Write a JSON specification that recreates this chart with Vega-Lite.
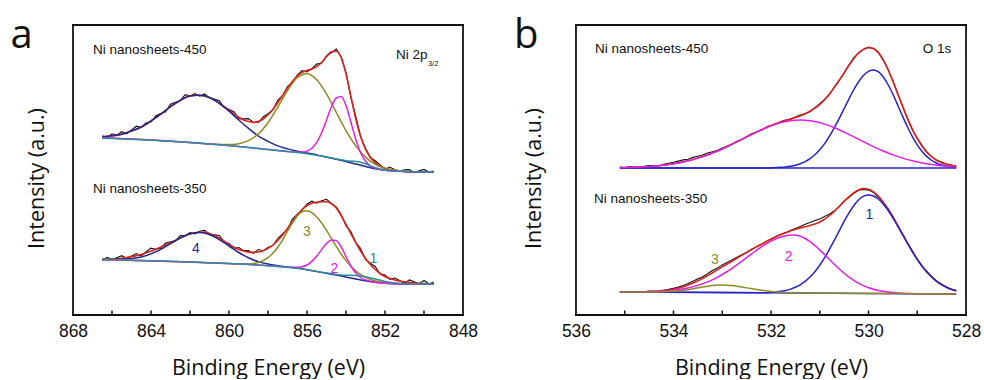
{
"$schema": "https://vega.github.io/schema/vega-lite/v6.json",
"padding": {"left": 10, "top": 15, "right": 0, "bottom": 0},
"background": "white",
"spacing": 97,
"bounds": "flush",
"resolve": {"scale": {"color": "independent"}},
"config": {
 "view": {"stroke": null},
 "axis": {"grid": false, "domain": false, "ticks": false, "labelColor": "#111111", "titleColor": "#111111", "titleFont": "Open Sans", "titleFontWeight": "normal", "titleFontSize": 21.5, "labelFont": "Liberation Sans", "labelFontSize": 17.5},
 "axisX": {"labelPadding": -1, "labelFlush": false, "labelOverlap": false, "labelBound": false, "titleBaseline": "alphabetic", "titleY": 51},
 "axisY": {"labels": false, "titleY": 161, "titleAngle": -90, "titleAlign": "center", "titleBaseline": "alphabetic"}
},
"datasets": {
"aBox": [{"side":"b","x":868,"y":0},{"side":"b","x":848,"y":0},{"side":"t","x":868,"y":290},{"side":"t","x":848,"y":290},{"side":"l","x":868,"y":0},{"side":"l","x":868,"y":290},{"side":"r","x":848,"y":0},{"side":"r","x":848,"y":290}],
"bBox": [{"side":"b","x":536,"y":0},{"side":"b","x":528,"y":0},{"side":"t","x":536,"y":290},{"side":"t","x":528,"y":290},{"side":"l","x":536,"y":0},{"side":"l","x":536,"y":290},{"side":"r","x":528,"y":0},{"side":"r","x":528,"y":290}],
"aTick": [{"x":850,"y":0},{"x":850,"y":4.5},{"x":852,"y":0},{"x":852,"y":4.5},{"x":854,"y":0},{"x":854,"y":4.5},{"x":856,"y":0},{"x":856,"y":4.5},{"x":858,"y":0},{"x":858,"y":4.5},{"x":860,"y":0},{"x":860,"y":4.5},{"x":862,"y":0},{"x":862,"y":4.5},{"x":864,"y":0},{"x":864,"y":4.5},{"x":866,"y":0},{"x":866,"y":4.5}],
"bTick": [{"x":529,"y":0},{"x":529,"y":4.5},{"x":530,"y":0},{"x":530,"y":4.5},{"x":531,"y":0},{"x":531,"y":4.5},{"x":532,"y":0},{"x":532,"y":4.5},{"x":533,"y":0},{"x":533,"y":4.5},{"x":534,"y":0},{"x":534,"y":4.5},{"x":535,"y":0},{"x":535,"y":4.5}],
"aRaw": [
{"s":"u","x":866.5,"y":179.3},{"s":"u","x":866.25,"y":177.2},{"s":"u","x":866,"y":181.2},{"s":"u","x":865.75,"y":179.9},{"s":"u","x":865.5,"y":183.3},{"s":"u","x":865.25,"y":181.2},{"s":"u","x":865,"y":185},{"s":"u","x":864.75,"y":188.8},{"s":"u","x":864.5,"y":187.5},{"s":"u","x":864.25,"y":192.3},{"s":"u","x":864,"y":193},{"s":"u","x":863.75,"y":199.3},{"s":"u","x":863.5,"y":201.4},{"s":"u","x":863.25,"y":203.1},{"s":"u","x":863,"y":210.8},{"s":"u","x":862.75,"y":212.7},{"s":"u","x":862.5,"y":214.2},{"s":"u","x":862.25,"y":220.3},{"s":"u","x":862,"y":219},{"s":"u","x":861.75,"y":221.3},{"s":"u","x":861.5,"y":218.8},{"s":"u","x":861.25,"y":221},{"s":"u","x":861,"y":217},{"s":"u","x":860.75,"y":216},{"s":"u","x":860.5,"y":214.2},{"s":"u","x":860.25,"y":207.6},{"s":"u","x":860,"y":205.4},{"s":"u","x":859.75,"y":203.2},{"s":"u","x":859.5,"y":196.3},{"s":"u","x":859.25,"y":196.1},{"s":"u","x":859,"y":196.4},{"s":"u","x":858.75,"y":192.6},{"s":"u","x":858.5,"y":192.5},{"s":"u","x":858.25,"y":198},{"s":"u","x":858,"y":201.3},{"s":"u","x":857.75,"y":205.1},{"s":"u","x":857.5,"y":214.7},{"s":"u","x":857.25,"y":219.6},{"s":"u","x":857,"y":228.4},{"s":"u","x":856.75,"y":232.5},{"s":"u","x":856.5,"y":239.8},{"s":"u","x":856.25,"y":244.4},{"s":"u","x":856,"y":243},{"s":"u","x":855.75,"y":246.4},{"s":"u","x":855.5,"y":250.9},{"s":"u","x":855.25,"y":252},{"s":"u","x":855,"y":259.2},{"s":"u","x":854.75,"y":262.2},{"s":"u","x":854.5,"y":265.9},{"s":"u","x":854.25,"y":258},{"s":"u","x":854,"y":242.7},{"s":"u","x":853.75,"y":217.7},{"s":"u","x":853.5,"y":198.8},{"s":"u","x":853.25,"y":178.4},{"s":"u","x":853,"y":166.8},{"s":"u","x":852.75,"y":157.2},{"s":"u","x":852.5,"y":154.2},{"s":"u","x":852.25,"y":150},{"s":"u","x":852,"y":145.8},{"s":"u","x":851.75,"y":148},{"s":"u","x":851.5,"y":145.2},{"s":"u","x":851.25,"y":143.7},{"s":"u","x":851,"y":145.3},{"s":"u","x":850.75,"y":145.5},{"s":"u","x":850.5,"y":142.3},{"s":"u","x":850.25,"y":144.2},{"s":"u","x":850,"y":145.6},{"s":"u","x":849.75,"y":143.05},{"s":"u","x":849.5,"y":144},
{"s":"l","x":866.5,"y":54.6},{"s":"l","x":866.25,"y":57.7},{"s":"l","x":866,"y":55.4},{"s":"l","x":865.75,"y":57.3},{"s":"l","x":865.5,"y":59.3},{"s":"l","x":865.25,"y":56.5},{"s":"l","x":865,"y":58.9},{"s":"l","x":864.75,"y":61.4},{"s":"l","x":864.5,"y":59.1},{"s":"l","x":864.25,"y":63.2},{"s":"l","x":864,"y":66.9},{"s":"l","x":863.75,"y":65.8},{"s":"l","x":863.5,"y":66.8},{"s":"l","x":863.25,"y":72},{"s":"l","x":863,"y":73.3},{"s":"l","x":862.75,"y":74.1},{"s":"l","x":862.5,"y":79.5},{"s":"l","x":862.25,"y":79.1},{"s":"l","x":862,"y":82.4},{"s":"l","x":861.75,"y":81.2},{"s":"l","x":861.5,"y":83.8},{"s":"l","x":861.25,"y":84.6},{"s":"l","x":861,"y":80.1},{"s":"l","x":860.75,"y":80.1},{"s":"l","x":860.5,"y":79.5},{"s":"l","x":860.25,"y":73.3},{"s":"l","x":860,"y":71.5},{"s":"l","x":859.75,"y":66.8},{"s":"l","x":859.5,"y":67.5},{"s":"l","x":859.25,"y":64.4},{"s":"l","x":859,"y":64.4},{"s":"l","x":858.75,"y":61.6},{"s":"l","x":858.5,"y":65.5},{"s":"l","x":858.25,"y":64.3},{"s":"l","x":858,"y":67.6},{"s":"l","x":857.75,"y":69.5},{"s":"l","x":857.5,"y":76.5},{"s":"l","x":857.25,"y":81},{"s":"l","x":857,"y":85.5},{"s":"l","x":856.75,"y":96},{"s":"l","x":856.5,"y":100.5},{"s":"l","x":856.25,"y":105},{"s":"l","x":856,"y":111},{"s":"l","x":855.75,"y":113.8},{"s":"l","x":855.5,"y":111.8},{"s":"l","x":855.25,"y":114.2},{"s":"l","x":855,"y":115.7},{"s":"l","x":854.75,"y":111.5},{"s":"l","x":854.5,"y":108},{"s":"l","x":854.25,"y":100.5},{"s":"l","x":854,"y":89},{"s":"l","x":853.75,"y":83.5},{"s":"l","x":853.5,"y":72.5},{"s":"l","x":853.25,"y":66.5},{"s":"l","x":853,"y":55.5},{"s":"l","x":852.75,"y":51.5},{"s":"l","x":852.5,"y":48.5},{"s":"l","x":852.25,"y":41},{"s":"l","x":852,"y":40},{"s":"l","x":851.75,"y":35.5},{"s":"l","x":851.5,"y":37},{"s":"l","x":851.25,"y":34.5},{"s":"l","x":851,"y":31.7},{"s":"l","x":850.75,"y":35.1},{"s":"l","x":850.5,"y":33.2},{"s":"l","x":850.25,"y":31.3},{"s":"l","x":850,"y":34.5},{"s":"l","x":849.75,"y":31.3},{"s":"l","x":849.5,"y":32.7}
],
"aFit": [
{"s":"u","c":"e","x":866.5,"y":178.3},{"s":"u","c":"e","x":866.25,"y":178.7},{"s":"u","c":"e","x":866,"y":179.2},{"s":"u","c":"e","x":865.75,"y":179.9},{"s":"u","c":"e","x":865.5,"y":180.8},{"s":"u","c":"e","x":865.25,"y":182.2},{"s":"u","c":"e","x":865,"y":184},{"s":"u","c":"e","x":864.75,"y":185.8},{"s":"u","c":"e","x":864.5,"y":188},{"s":"u","c":"e","x":864.25,"y":190.8},{"s":"u","c":"e","x":864,"y":194},{"s":"u","c":"e","x":863.75,"y":197.3},{"s":"u","c":"e","x":863.5,"y":200.9},{"s":"u","c":"e","x":863.25,"y":204.6},{"s":"u","c":"e","x":863,"y":208.3},{"s":"u","c":"e","x":862.75,"y":211.7},{"s":"u","c":"e","x":862.5,"y":214.7},{"s":"u","c":"e","x":862.25,"y":217.3},{"s":"u","c":"e","x":862,"y":219},{"s":"u","c":"e","x":861.75,"y":219.8},{"s":"u","c":"e","x":861.5,"y":219.8},{"s":"u","c":"e","x":861.25,"y":219},{"s":"u","c":"e","x":861,"y":217.5},{"s":"u","c":"e","x":860.75,"y":215},{"s":"u","c":"e","x":860.5,"y":211.7},{"s":"u","c":"e","x":860.25,"y":208.6},{"s":"u","c":"e","x":860,"y":204.9},{"s":"u","c":"e","x":859.75,"y":201.2},{"s":"u","c":"e","x":859.5,"y":197.8},{"s":"u","c":"e","x":859.25,"y":195.1},{"s":"u","c":"e","x":859,"y":193.4},{"s":"u","c":"e","x":858.75,"y":192.6},{"s":"u","c":"e","x":858.5,"y":193.5},{"s":"u","c":"e","x":858.25,"y":196},{"s":"u","c":"e","x":858,"y":200.3},{"s":"u","c":"e","x":857.75,"y":205.6},{"s":"u","c":"e","x":857.5,"y":212.2},{"s":"u","c":"e","x":857.25,"y":219.6},{"s":"u","c":"e","x":857,"y":226.9},{"s":"u","c":"e","x":856.75,"y":233.5},{"s":"u","c":"e","x":856.5,"y":238.8},{"s":"u","c":"e","x":856.25,"y":242.4},{"s":"u","c":"e","x":856,"y":244.5},{"s":"u","c":"e","x":855.75,"y":245.9},{"s":"u","c":"e","x":855.5,"y":248.4},{"s":"u","c":"e","x":855.25,"y":252.5},{"s":"u","c":"e","x":855,"y":258.2},{"s":"u","c":"e","x":854.75,"y":263.2},{"s":"u","c":"e","x":854.5,"y":263.9},{"s":"u","c":"e","x":854.25,"y":257.5},{"s":"u","c":"e","x":854,"y":241.2},{"s":"u","c":"e","x":853.75,"y":218.7},{"s":"u","c":"e","x":853.5,"y":196.3},{"s":"u","c":"e","x":853.25,"y":178.4},{"s":"u","c":"e","x":853,"y":165.8},{"s":"u","c":"e","x":852.75,"y":157.7},{"s":"u","c":"e","x":852.5,"y":152.2},{"s":"u","c":"e","x":852.25,"y":149},{"s":"u","c":"e","x":852,"y":146.8},{"s":"u","c":"e","x":851.75,"y":145.5},{"s":"u","c":"e","x":851.5,"y":144.7},{"s":"u","c":"e","x":851.25,"y":144.2},{"s":"u","c":"e","x":851,"y":143.8},{"s":"u","c":"e","x":850.75,"y":143.5},{"s":"u","c":"e","x":850.5,"y":143.3},{"s":"u","c":"e","x":850.25,"y":143.2},{"s":"u","c":"e","x":850,"y":143.1},{"s":"u","c":"e","x":849.75,"y":143.05},{"s":"u","c":"e","x":849.5,"y":143},
{"s":"u","c":"4","x":866.5,"y":178.3},{"s":"u","c":"4","x":866,"y":179.2},{"s":"u","c":"4","x":865.5,"y":180.8},{"s":"u","c":"4","x":865,"y":184},{"s":"u","c":"4","x":864.5,"y":188},{"s":"u","c":"4","x":864,"y":194},{"s":"u","c":"4","x":863.5,"y":200.9},{"s":"u","c":"4","x":863,"y":208.3},{"s":"u","c":"4","x":862.5,"y":214.7},{"s":"u","c":"4","x":862,"y":219},{"s":"u","c":"4","x":861.5,"y":219.8},{"s":"u","c":"4","x":861,"y":217.5},{"s":"u","c":"4","x":860.5,"y":211.7},{"s":"u","c":"4","x":860,"y":203.9},{"s":"u","c":"4","x":859.5,"y":195},{"s":"u","c":"4","x":859,"y":186.6},{"s":"u","c":"4","x":858.5,"y":179.1},{"s":"u","c":"4","x":858,"y":173.6},{"s":"u","c":"4","x":857.5,"y":169.1},{"s":"u","c":"4","x":857,"y":166.1},{"s":"u","c":"4","x":856.5,"y":163.8},{"s":"u","c":"4","x":856,"y":161.9},{"s":"u","c":"4","x":855.5,"y":160.1},{"s":"u","c":"4","x":855,"y":158},{"s":"u","c":"4","x":854.5,"y":155.8},{"s":"u","c":"4","x":854,"y":153.5},{"s":"u","c":"4","x":853.5,"y":151},{"s":"u","c":"4","x":853,"y":148.5},{"s":"u","c":"4","x":852.5,"y":146.3},{"s":"u","c":"4","x":852,"y":144.8},{"s":"u","c":"4","x":851,"y":143.6},{"s":"u","c":"4","x":850,"y":143.1},{"s":"u","c":"4","x":849.5,"y":143},
{"s":"u","c":"3","x":866.5,"y":177},{"s":"u","c":"3","x":864,"y":175},{"s":"u","c":"3","x":862,"y":172.5},{"s":"u","c":"3","x":861,"y":171.2},{"s":"u","c":"3","x":860,"y":170.4},{"s":"u","c":"3","x":859.5,"y":171.3},{"s":"u","c":"3","x":859,"y":174.4},{"s":"u","c":"3","x":858.5,"y":181},{"s":"u","c":"3","x":858,"y":192.3},{"s":"u","c":"3","x":857.5,"y":207.7},{"s":"u","c":"3","x":857,"y":224.4},{"s":"u","c":"3","x":856.5,"y":237.2},{"s":"u","c":"3","x":856,"y":241.3},{"s":"u","c":"3","x":855.5,"y":235.2},{"s":"u","c":"3","x":855,"y":221.1},{"s":"u","c":"3","x":854.5,"y":202.7},{"s":"u","c":"3","x":854,"y":184.4},{"s":"u","c":"3","x":853.5,"y":169.1},{"s":"u","c":"3","x":853,"y":157.9},{"s":"u","c":"3","x":852.5,"y":150.6},{"s":"u","c":"3","x":852,"y":146.6},{"s":"u","c":"3","x":851.5,"y":144.7},{"s":"u","c":"3","x":851,"y":143.8},{"s":"u","c":"3","x":850,"y":143.1},{"s":"u","c":"3","x":849.5,"y":143},
{"s":"u","c":"2","x":866.5,"y":177},{"s":"u","c":"2","x":864,"y":175},{"s":"u","c":"2","x":862,"y":172.5},{"s":"u","c":"2","x":860,"y":169.4},{"s":"u","c":"2","x":858,"y":165.6},{"s":"u","c":"2","x":857,"y":163.6},{"s":"u","c":"2","x":856.5,"y":162.8},{"s":"u","c":"2","x":856.25,"y":162.9},{"s":"u","c":"2","x":856,"y":163.9},{"s":"u","c":"2","x":855.75,"y":166.7},{"s":"u","c":"2","x":855.5,"y":172.7},{"s":"u","c":"2","x":855.25,"y":182.3},{"s":"u","c":"2","x":855,"y":195.1},{"s":"u","c":"2","x":854.75,"y":208},{"s":"u","c":"2","x":854.5,"y":217},{"s":"u","c":"2","x":854.25,"y":218.6},{"s":"u","c":"2","x":854,"y":209.5},{"s":"u","c":"2","x":853.75,"y":193},{"s":"u","c":"2","x":853.5,"y":175.7},{"s":"u","c":"2","x":853.25,"y":162.2},{"s":"u","c":"2","x":853,"y":153.7},{"s":"u","c":"2","x":852.75,"y":149.2},{"s":"u","c":"2","x":852.5,"y":146.8},{"s":"u","c":"2","x":852,"y":144.8},{"s":"u","c":"2","x":851,"y":143.6},{"s":"u","c":"2","x":849.5,"y":143},
{"s":"u","c":"1","x":866.5,"y":177},{"s":"u","c":"1","x":862,"y":172.5},{"s":"u","c":"1","x":858,"y":165.6},{"s":"u","c":"1","x":856,"y":161.3},{"s":"u","c":"1","x":855,"y":158},{"s":"u","c":"1","x":854.5,"y":156},{"s":"u","c":"1","x":854,"y":154.3},{"s":"u","c":"1","x":853.5,"y":153.5},{"s":"u","c":"1","x":853.25,"y":152.75},{"s":"u","c":"1","x":853,"y":151.2},{"s":"u","c":"1","x":852.5,"y":147.4},{"s":"u","c":"1","x":852,"y":145},{"s":"u","c":"1","x":851.5,"y":144},{"s":"u","c":"1","x":850.5,"y":143.3},{"s":"u","c":"1","x":849.5,"y":143},
{"s":"l","c":"e","x":866.5,"y":55.6},{"s":"l","c":"e","x":866.25,"y":55.7},{"s":"l","c":"e","x":866,"y":55.9},{"s":"l","c":"e","x":865.75,"y":56.3},{"s":"l","c":"e","x":865.5,"y":56.8},{"s":"l","c":"e","x":865.25,"y":57.5},{"s":"l","c":"e","x":865,"y":58.4},{"s":"l","c":"e","x":864.75,"y":59.4},{"s":"l","c":"e","x":864.5,"y":60.6},{"s":"l","c":"e","x":864.25,"y":62.2},{"s":"l","c":"e","x":864,"y":63.9},{"s":"l","c":"e","x":863.75,"y":65.8},{"s":"l","c":"e","x":863.5,"y":67.8},{"s":"l","c":"e","x":863.25,"y":70},{"s":"l","c":"e","x":863,"y":72.3},{"s":"l","c":"e","x":862.75,"y":74.6},{"s":"l","c":"e","x":862.5,"y":77},{"s":"l","c":"e","x":862.25,"y":79.1},{"s":"l","c":"e","x":862,"y":80.9},{"s":"l","c":"e","x":861.75,"y":82.2},{"s":"l","c":"e","x":861.5,"y":82.8},{"s":"l","c":"e","x":861.25,"y":82.6},{"s":"l","c":"e","x":861,"y":81.6},{"s":"l","c":"e","x":860.75,"y":79.6},{"s":"l","c":"e","x":860.5,"y":77},{"s":"l","c":"e","x":860.25,"y":73.8},{"s":"l","c":"e","x":860,"y":70.5},{"s":"l","c":"e","x":859.75,"y":67.8},{"s":"l","c":"e","x":859.5,"y":65.5},{"s":"l","c":"e","x":859.25,"y":63.9},{"s":"l","c":"e","x":859,"y":62.9},{"s":"l","c":"e","x":858.75,"y":62.6},{"s":"l","c":"e","x":858.5,"y":63},{"s":"l","c":"e","x":858.25,"y":64.3},{"s":"l","c":"e","x":858,"y":66.6},{"s":"l","c":"e","x":857.75,"y":70},{"s":"l","c":"e","x":857.5,"y":74.5},{"s":"l","c":"e","x":857.25,"y":80},{"s":"l","c":"e","x":857,"y":86.5},{"s":"l","c":"e","x":856.75,"y":93.5},{"s":"l","c":"e","x":856.5,"y":100},{"s":"l","c":"e","x":856.25,"y":105.5},{"s":"l","c":"e","x":856,"y":109.5},{"s":"l","c":"e","x":855.75,"y":111.8},{"s":"l","c":"e","x":855.5,"y":112.8},{"s":"l","c":"e","x":855.25,"y":113.2},{"s":"l","c":"e","x":855,"y":113.2},{"s":"l","c":"e","x":854.75,"y":111.5},{"s":"l","c":"e","x":854.5,"y":107},{"s":"l","c":"e","x":854.25,"y":99.5},{"s":"l","c":"e","x":854,"y":90.5},{"s":"l","c":"e","x":853.75,"y":81.5},{"s":"l","c":"e","x":853.5,"y":72.5},{"s":"l","c":"e","x":853.25,"y":64},{"s":"l","c":"e","x":853,"y":56.5},{"s":"l","c":"e","x":852.75,"y":50.5},{"s":"l","c":"e","x":852.5,"y":45.5},{"s":"l","c":"e","x":852.25,"y":41.5},{"s":"l","c":"e","x":852,"y":38.5},{"s":"l","c":"e","x":851.75,"y":36.5},{"s":"l","c":"e","x":851.5,"y":35},{"s":"l","c":"e","x":851.25,"y":34},{"s":"l","c":"e","x":851,"y":33.2},{"s":"l","c":"e","x":850.75,"y":32.6},{"s":"l","c":"e","x":850.5,"y":32.2},{"s":"l","c":"e","x":850.25,"y":31.8},{"s":"l","c":"e","x":850,"y":31.5},{"s":"l","c":"e","x":849.75,"y":31.3},{"s":"l","c":"e","x":849.5,"y":31.2},
{"s":"l","c":"4","x":866.5,"y":55.6},{"s":"l","c":"4","x":866,"y":55.6},{"s":"l","c":"4","x":865.5,"y":55.8},{"s":"l","c":"4","x":865,"y":56.5},{"s":"l","c":"4","x":864.5,"y":58.1},{"s":"l","c":"4","x":864,"y":61.1},{"s":"l","c":"4","x":863.5,"y":65.6},{"s":"l","c":"4","x":863,"y":71.3},{"s":"l","c":"4","x":862.5,"y":77},{"s":"l","c":"4","x":862,"y":81.3},{"s":"l","c":"4","x":861.5,"y":82.6},{"s":"l","c":"4","x":861,"y":80.5},{"s":"l","c":"4","x":860.5,"y":75.4},{"s":"l","c":"4","x":860,"y":69},{"s":"l","c":"4","x":859.5,"y":62.5},{"s":"l","c":"4","x":859,"y":57.2},{"s":"l","c":"4","x":858.5,"y":53.4},{"s":"l","c":"4","x":858,"y":50.9},{"s":"l","c":"4","x":857.5,"y":49.3},{"s":"l","c":"4","x":857,"y":48.05},{"s":"l","c":"4","x":856.5,"y":46.9},{"s":"l","c":"4","x":856,"y":45.3},{"s":"l","c":"4","x":855.5,"y":43.6},{"s":"l","c":"4","x":855,"y":41.8},{"s":"l","c":"4","x":854.5,"y":39.9},{"s":"l","c":"4","x":854,"y":38},{"s":"l","c":"4","x":853.5,"y":36.1},{"s":"l","c":"4","x":853,"y":34.3},{"s":"l","c":"4","x":852.5,"y":32.8},{"s":"l","c":"4","x":852,"y":31.8},{"s":"l","c":"4","x":851.5,"y":31.3},{"s":"l","c":"4","x":851,"y":31.1},{"s":"l","c":"4","x":850,"y":31},{"s":"l","c":"4","x":849.5,"y":31},
{"s":"l","c":"3","x":866.5,"y":55.5},{"s":"l","c":"3","x":862,"y":53},{"s":"l","c":"3","x":860,"y":51.4},{"s":"l","c":"3","x":859,"y":51},{"s":"l","c":"3","x":858.5,"y":52.5},{"s":"l","c":"3","x":858,"y":57.3},{"s":"l","c":"3","x":857.75,"y":61.8},{"s":"l","c":"3","x":857.5,"y":67.8},{"s":"l","c":"3","x":857.25,"y":75.2},{"s":"l","c":"3","x":857,"y":83.6},{"s":"l","c":"3","x":856.75,"y":91.8},{"s":"l","c":"3","x":856.5,"y":98.9},{"s":"l","c":"3","x":856.25,"y":103.3},{"s":"l","c":"3","x":856,"y":104.3},{"s":"l","c":"3","x":855.75,"y":102.3},{"s":"l","c":"3","x":855.5,"y":98.1},{"s":"l","c":"3","x":855.25,"y":92},{"s":"l","c":"3","x":855,"y":84.6},{"s":"l","c":"3","x":854.75,"y":76.7},{"s":"l","c":"3","x":854.5,"y":68.6},{"s":"l","c":"3","x":854.25,"y":61},{"s":"l","c":"3","x":854,"y":54.4},{"s":"l","c":"3","x":853.75,"y":48.7},{"s":"l","c":"3","x":853.5,"y":44.1},{"s":"l","c":"3","x":853.25,"y":40.4},{"s":"l","c":"3","x":853,"y":37.6},{"s":"l","c":"3","x":852.5,"y":34},{"s":"l","c":"3","x":852,"y":32.2},{"s":"l","c":"3","x":851,"y":31.1},{"s":"l","c":"3","x":849.5,"y":31},
{"s":"l","c":"2","x":866.5,"y":55.5},{"s":"l","c":"2","x":862,"y":53},{"s":"l","c":"2","x":860,"y":51.4},{"s":"l","c":"2","x":858,"y":49.3},{"s":"l","c":"2","x":857,"y":47.8},{"s":"l","c":"2","x":856.5,"y":47.7},{"s":"l","c":"2","x":856.25,"y":48.3},{"s":"l","c":"2","x":856,"y":50},{"s":"l","c":"2","x":855.75,"y":53.6},{"s":"l","c":"2","x":855.5,"y":58.9},{"s":"l","c":"2","x":855.25,"y":65.4},{"s":"l","c":"2","x":855,"y":71.5},{"s":"l","c":"2","x":854.75,"y":75.1},{"s":"l","c":"2","x":854.5,"y":74.4},{"s":"l","c":"2","x":854.25,"y":68.2},{"s":"l","c":"2","x":854,"y":58.5},{"s":"l","c":"2","x":853.75,"y":49},{"s":"l","c":"2","x":853.5,"y":41.9},{"s":"l","c":"2","x":853.25,"y":37.5},{"s":"l","c":"2","x":853,"y":35.1},{"s":"l","c":"2","x":852.75,"y":33.75},{"s":"l","c":"2","x":852.5,"y":32.8},{"s":"l","c":"2","x":852,"y":31.8},{"s":"l","c":"2","x":851,"y":31.1},{"s":"l","c":"2","x":849.5,"y":31},
{"s":"l","c":"1","x":866.5,"y":55.5},{"s":"l","c":"1","x":862,"y":53},{"s":"l","c":"1","x":858,"y":49.3},{"s":"l","c":"1","x":856,"y":45.3},{"s":"l","c":"1","x":855,"y":41.9},{"s":"l","c":"1","x":854.5,"y":40.6},{"s":"l","c":"1","x":854,"y":39.8},{"s":"l","c":"1","x":853.5,"y":39.4},{"s":"l","c":"1","x":853,"y":38.3},{"s":"l","c":"1","x":852.5,"y":36.1},{"s":"l","c":"1","x":852,"y":33.6},{"s":"l","c":"1","x":851.5,"y":32},{"s":"l","c":"1","x":851,"y":31.1},{"s":"l","c":"1","x":849.5,"y":31}
],
"aTxt": [
{"k":"name","t":"Ni nanosheets-450","x":866.97,"y":265},
{"k":"name","t":"Ni nanosheets-350","x":866.97,"y":126},
{"k":"name","t":"Ni 2p","x":851.44,"y":260},
{"k":"sub","t":"3/2","x":849.8,"y":251},
{"k":"letter","t":"a","x":871.2,"y":267},
{"k":"num","c":"4","t":"4","x":861.7,"y":66},
{"k":"num","c":"3","t":"3","x":856.0,"y":83},
{"k":"num","c":"2","t":"2","x":854.6,"y":46},
{"k":"num","c":"1","t":"1","x":852.6,"y":56}
],
"bRaw": [
{"s":"u","x":535.1,"y":147.9},{"s":"u","x":535.0,"y":147.2},{"s":"u","x":534.9,"y":148.4},{"s":"u","x":534.8,"y":148},{"s":"u","x":534.7,"y":147.5},{"s":"u","x":534.6,"y":148.8},{"s":"u","x":534.5,"y":149.5},{"s":"u","x":534.4,"y":149.2},{"s":"u","x":534.3,"y":149.1},{"s":"u","x":534.2,"y":150.8},{"s":"u","x":534.1,"y":151.7},{"s":"u","x":534.0,"y":152.7},{"s":"u","x":533.9,"y":153.9},{"s":"u","x":533.8,"y":155.1},{"s":"u","x":533.7,"y":155.8},{"s":"u","x":533.6,"y":157.6},{"s":"u","x":533.5,"y":158.7},{"s":"u","x":533.4,"y":159.9},{"s":"u","x":533.3,"y":162.1},{"s":"u","x":533.2,"y":163.2},{"s":"u","x":533.1,"y":164.8},{"s":"u","x":533.0,"y":167.1},{"s":"u","x":532.9,"y":168.9},{"s":"u","x":532.8,"y":170.9},{"s":"u","x":532.7,"y":173.8},{"s":"u","x":532.6,"y":175.3},{"s":"u","x":532.5,"y":178.5},{"s":"u","x":532.4,"y":181.3},{"s":"u","x":532.3,"y":183},{"s":"u","x":532.2,"y":184.7},{"s":"u","x":532.1,"y":187.8},{"s":"u","x":532.0,"y":189.6},{"s":"u","x":531.9,"y":191.1},{"s":"u","x":531.8,"y":193.6},{"s":"u","x":531.7,"y":194.9},{"s":"u","x":531.6,"y":195.6},{"s":"u","x":531.5,"y":198},{"s":"u","x":531.4,"y":200},{"s":"u","x":531.3,"y":201.2},{"s":"u","x":531.2,"y":203.3},{"s":"u","x":531.1,"y":207.3},{"s":"u","x":531.0,"y":211.4},{"s":"u","x":530.9,"y":215.5},{"s":"u","x":530.8,"y":220.7},{"s":"u","x":530.7,"y":228.2},{"s":"u","x":530.6,"y":234.8},{"s":"u","x":530.5,"y":241.8},{"s":"u","x":530.4,"y":250.1},{"s":"u","x":530.3,"y":257.5},{"s":"u","x":530.2,"y":262.3},{"s":"u","x":530.1,"y":265.6},{"s":"u","x":530.0,"y":267.8},{"s":"u","x":529.9,"y":266.4},{"s":"u","x":529.8,"y":263.1},{"s":"u","x":529.7,"y":254.9},{"s":"u","x":529.6,"y":245.8},{"s":"u","x":529.5,"y":234.4},{"s":"u","x":529.4,"y":221},{"s":"u","x":529.3,"y":208.9},{"s":"u","x":529.2,"y":196.5},{"s":"u","x":529.1,"y":185.3},{"s":"u","x":529.0,"y":176.8},{"s":"u","x":528.9,"y":169.4},{"s":"u","x":528.8,"y":162.6},{"s":"u","x":528.7,"y":158.4},{"s":"u","x":528.6,"y":154.5},{"s":"u","x":528.5,"y":152.9},{"s":"u","x":528.4,"y":151},{"s":"u","x":528.3,"y":150},{"s":"u","x":528.2,"y":149},
{"s":"l","x":535.1,"y":23.4},{"s":"l","x":535.0,"y":22.9},{"s":"l","x":534.9,"y":23.4},{"s":"l","x":534.8,"y":23.1},{"s":"l","x":534.7,"y":23.4},{"s":"l","x":534.6,"y":22.9},{"s":"l","x":534.5,"y":23.9},{"s":"l","x":534.4,"y":23.8},{"s":"l","x":534.3,"y":23.9},{"s":"l","x":534.2,"y":24.8},{"s":"l","x":534.1,"y":25.6},{"s":"l","x":534.0,"y":26.6},{"s":"l","x":533.9,"y":27.9},{"s":"l","x":533.8,"y":29.4},{"s":"l","x":533.7,"y":31.4},{"s":"l","x":533.6,"y":33.7},{"s":"l","x":533.5,"y":36.2},{"s":"l","x":533.4,"y":38.3},{"s":"l","x":533.3,"y":41.2},{"s":"l","x":533.2,"y":44.5},{"s":"l","x":533.1,"y":47},{"s":"l","x":533.0,"y":50.1},{"s":"l","x":532.9,"y":52.4},{"s":"l","x":532.8,"y":55},{"s":"l","x":532.7,"y":57.8},{"s":"l","x":532.6,"y":60.2},{"s":"l","x":532.5,"y":62.8},{"s":"l","x":532.4,"y":65.8},{"s":"l","x":532.3,"y":68.1},{"s":"l","x":532.2,"y":70.4},{"s":"l","x":532.1,"y":73.4},{"s":"l","x":532.0,"y":75.6},{"s":"l","x":531.9,"y":78.6},{"s":"l","x":531.8,"y":80.4},{"s":"l","x":531.7,"y":81.9},{"s":"l","x":531.6,"y":84.5},{"s":"l","x":531.5,"y":86.6},{"s":"l","x":531.4,"y":88.6},{"s":"l","x":531.3,"y":90.7},{"s":"l","x":531.2,"y":92.5},{"s":"l","x":531.1,"y":94.5},{"s":"l","x":531.0,"y":96},{"s":"l","x":530.9,"y":98.4},{"s":"l","x":530.8,"y":101},{"s":"l","x":530.7,"y":104.2},{"s":"l","x":530.6,"y":108.3},{"s":"l","x":530.5,"y":114},{"s":"l","x":530.4,"y":117.7},{"s":"l","x":530.3,"y":121.6},{"s":"l","x":530.2,"y":124.8},{"s":"l","x":530.1,"y":125.5},{"s":"l","x":530.0,"y":124.9},{"s":"l","x":529.9,"y":122.7},{"s":"l","x":529.8,"y":118},{"s":"l","x":529.7,"y":112.5},{"s":"l","x":529.6,"y":105.9},{"s":"l","x":529.5,"y":98.6},{"s":"l","x":529.4,"y":89.3},{"s":"l","x":529.3,"y":81},{"s":"l","x":529.2,"y":71.9},{"s":"l","x":529.1,"y":63.9},{"s":"l","x":529.0,"y":55.5},{"s":"l","x":528.9,"y":49},{"s":"l","x":528.8,"y":43.4},{"s":"l","x":528.7,"y":37.9},{"s":"l","x":528.6,"y":33.4},{"s":"l","x":528.5,"y":30.7},{"s":"l","x":528.4,"y":28},{"s":"l","x":528.3,"y":25.5},{"s":"l","x":528.2,"y":24.4}
],
"bFit": [
{"s":"u","c":"e","x":535.1,"y":147.4},{"s":"u","c":"e","x":535.0,"y":147.5},{"s":"u","c":"e","x":534.9,"y":147.6},{"s":"u","c":"e","x":534.8,"y":147.8},{"s":"u","c":"e","x":534.7,"y":148},{"s":"u","c":"e","x":534.6,"y":148.2},{"s":"u","c":"e","x":534.5,"y":148.5},{"s":"u","c":"e","x":534.4,"y":148.9},{"s":"u","c":"e","x":534.3,"y":149.3},{"s":"u","c":"e","x":534.2,"y":149.9},{"s":"u","c":"e","x":534.1,"y":150.5},{"s":"u","c":"e","x":534.0,"y":151.2},{"s":"u","c":"e","x":533.9,"y":152.1},{"s":"u","c":"e","x":533.8,"y":153.1},{"s":"u","c":"e","x":533.7,"y":154.2},{"s":"u","c":"e","x":533.6,"y":155.4},{"s":"u","c":"e","x":533.5,"y":156.9},{"s":"u","c":"e","x":533.4,"y":158.4},{"s":"u","c":"e","x":533.3,"y":160.1},{"s":"u","c":"e","x":533.2,"y":162},{"s":"u","c":"e","x":533.1,"y":164},{"s":"u","c":"e","x":533.0,"y":166.1},{"s":"u","c":"e","x":532.9,"y":168.4},{"s":"u","c":"e","x":532.8,"y":170.7},{"s":"u","c":"e","x":532.7,"y":173.2},{"s":"u","c":"e","x":532.6,"y":175.6},{"s":"u","c":"e","x":532.5,"y":178.1},{"s":"u","c":"e","x":532.4,"y":180.5},{"s":"u","c":"e","x":532.3,"y":182.9},{"s":"u","c":"e","x":532.2,"y":185.1},{"s":"u","c":"e","x":532.1,"y":187.3},{"s":"u","c":"e","x":532.0,"y":189.4},{"s":"u","c":"e","x":531.9,"y":191.3},{"s":"u","c":"e","x":531.8,"y":193},{"s":"u","c":"e","x":531.7,"y":194.6},{"s":"u","c":"e","x":531.6,"y":196.1},{"s":"u","c":"e","x":531.5,"y":197.6},{"s":"u","c":"e","x":531.4,"y":199.3},{"s":"u","c":"e","x":531.3,"y":201.2},{"s":"u","c":"e","x":531.2,"y":203.7},{"s":"u","c":"e","x":531.1,"y":206.8},{"s":"u","c":"e","x":531.0,"y":210.6},{"s":"u","c":"e","x":530.9,"y":215.3},{"s":"u","c":"e","x":530.8,"y":221},{"s":"u","c":"e","x":530.7,"y":227.6},{"s":"u","c":"e","x":530.6,"y":234.7},{"s":"u","c":"e","x":530.5,"y":242.3},{"s":"u","c":"e","x":530.4,"y":249.7},{"s":"u","c":"e","x":530.3,"y":256.6},{"s":"u","c":"e","x":530.2,"y":262.1},{"s":"u","c":"e","x":530.1,"y":265.9},{"s":"u","c":"e","x":530.0,"y":267.3},{"s":"u","c":"e","x":529.9,"y":266.4},{"s":"u","c":"e","x":529.8,"y":262.4},{"s":"u","c":"e","x":529.7,"y":255.3},{"s":"u","c":"e","x":529.6,"y":245.5},{"s":"u","c":"e","x":529.5,"y":233.8},{"s":"u","c":"e","x":529.4,"y":221.2},{"s":"u","c":"e","x":529.3,"y":208.5},{"s":"u","c":"e","x":529.2,"y":196.4},{"s":"u","c":"e","x":529.1,"y":185.6},{"s":"u","c":"e","x":529.0,"y":176.3},{"s":"u","c":"e","x":528.9,"y":168.6},{"s":"u","c":"e","x":528.8,"y":162.6},{"s":"u","c":"e","x":528.7,"y":158},{"s":"u","c":"e","x":528.6,"y":154.7},{"s":"u","c":"e","x":528.5,"y":152.3},{"s":"u","c":"e","x":528.4,"y":150.7},{"s":"u","c":"e","x":528.3,"y":149.5},{"s":"u","c":"e","x":528.2,"y":148.8},
{"s":"u","c":"0","x":535.1,"y":147},{"s":"u","c":"0","x":528.2,"y":147},
{"s":"u","c":"1","x":535.1,"y":147},{"s":"u","c":"1","x":532.1,"y":147},{"s":"u","c":"1","x":532.0,"y":147.2},{"s":"u","c":"1","x":531.9,"y":147.4},{"s":"u","c":"1","x":531.8,"y":147.65},{"s":"u","c":"1","x":531.7,"y":148.1},{"s":"u","c":"1","x":531.6,"y":148.8},{"s":"u","c":"1","x":531.5,"y":149.8},{"s":"u","c":"1","x":531.4,"y":151.3},{"s":"u","c":"1","x":531.3,"y":153.4},{"s":"u","c":"1","x":531.2,"y":156.4},{"s":"u","c":"1","x":531.1,"y":160.3},{"s":"u","c":"1","x":531.0,"y":165.3},{"s":"u","c":"1","x":530.9,"y":171.4},{"s":"u","c":"1","x":530.8,"y":178.8},{"s":"u","c":"1","x":530.7,"y":187.3},{"s":"u","c":"1","x":530.6,"y":196.6},{"s":"u","c":"1","x":530.5,"y":206.4},{"s":"u","c":"1","x":530.4,"y":216.2},{"s":"u","c":"1","x":530.3,"y":225.5},{"s":"u","c":"1","x":530.2,"y":233.5},{"s":"u","c":"1","x":530.1,"y":239.7},{"s":"u","c":"1","x":530.0,"y":243.6},{"s":"u","c":"1","x":529.9,"y":245},{"s":"u","c":"1","x":529.8,"y":243.3},{"s":"u","c":"1","x":529.7,"y":238.3},{"s":"u","c":"1","x":529.6,"y":230.5},{"s":"u","c":"1","x":529.5,"y":220.7},{"s":"u","c":"1","x":529.4,"y":209.8},{"s":"u","c":"1","x":529.3,"y":198.6},{"s":"u","c":"1","x":529.2,"y":188},{"s":"u","c":"1","x":529.1,"y":178.4},{"s":"u","c":"1","x":529.0,"y":170.2},{"s":"u","c":"1","x":528.9,"y":163.5},{"s":"u","c":"1","x":528.8,"y":158.4},{"s":"u","c":"1","x":528.7,"y":154.5},{"s":"u","c":"1","x":528.6,"y":151.8},{"s":"u","c":"1","x":528.5,"y":150},{"s":"u","c":"1","x":528.4,"y":148.8},{"s":"u","c":"1","x":528.3,"y":148},{"s":"u","c":"1","x":528.2,"y":147.6},
{"s":"u","c":"2","x":535.1,"y":147.35},{"s":"u","c":"2","x":534.9,"y":147.6},{"s":"u","c":"2","x":534.7,"y":148},{"s":"u","c":"2","x":534.5,"y":148.5},{"s":"u","c":"2","x":534.3,"y":149.3},{"s":"u","c":"2","x":534.1,"y":150.5},{"s":"u","c":"2","x":533.9,"y":152.1},{"s":"u","c":"2","x":533.7,"y":154.2},{"s":"u","c":"2","x":533.5,"y":156.9},{"s":"u","c":"2","x":533.3,"y":160.1},{"s":"u","c":"2","x":533.1,"y":164},{"s":"u","c":"2","x":532.9,"y":168.4},{"s":"u","c":"2","x":532.7,"y":173.2},{"s":"u","c":"2","x":532.5,"y":178.1},{"s":"u","c":"2","x":532.3,"y":182.9},{"s":"u","c":"2","x":532.1,"y":187.3},{"s":"u","c":"2","x":531.9,"y":190.9},{"s":"u","c":"2","x":531.7,"y":193.5},{"s":"u","c":"2","x":531.5,"y":194.8},{"s":"u","c":"2","x":531.4,"y":195},{"s":"u","c":"2","x":531.3,"y":194.8},{"s":"u","c":"2","x":531.1,"y":193.5},{"s":"u","c":"2","x":530.9,"y":190.9},{"s":"u","c":"2","x":530.7,"y":187.3},{"s":"u","c":"2","x":530.5,"y":182.9},{"s":"u","c":"2","x":530.3,"y":178.1},{"s":"u","c":"2","x":530.1,"y":173.2},{"s":"u","c":"2","x":529.9,"y":168.4},{"s":"u","c":"2","x":529.7,"y":164},{"s":"u","c":"2","x":529.5,"y":160.1},{"s":"u","c":"2","x":529.3,"y":156.9},{"s":"u","c":"2","x":529.1,"y":154.2},{"s":"u","c":"2","x":528.9,"y":152.1},{"s":"u","c":"2","x":528.7,"y":150.5},{"s":"u","c":"2","x":528.5,"y":149.3},{"s":"u","c":"2","x":528.3,"y":148.5},{"s":"u","c":"2","x":528.2,"y":148.2},
{"s":"l","c":"e","x":535.1,"y":23.1},{"s":"l","c":"e","x":535.0,"y":23.1},{"s":"l","c":"e","x":534.9,"y":23},{"s":"l","c":"e","x":534.8,"y":23.1},{"s":"l","c":"e","x":534.7,"y":23.1},{"s":"l","c":"e","x":534.6,"y":23.2},{"s":"l","c":"e","x":534.5,"y":23.4},{"s":"l","c":"e","x":534.4,"y":23.6},{"s":"l","c":"e","x":534.3,"y":23.9},{"s":"l","c":"e","x":534.2,"y":24.4},{"s":"l","c":"e","x":534.1,"y":25},{"s":"l","c":"e","x":534.0,"y":25.8},{"s":"l","c":"e","x":533.9,"y":26.9},{"s":"l","c":"e","x":533.8,"y":28.2},{"s":"l","c":"e","x":533.7,"y":29.9},{"s":"l","c":"e","x":533.6,"y":31.9},{"s":"l","c":"e","x":533.5,"y":34.2},{"s":"l","c":"e","x":533.4,"y":36.7},{"s":"l","c":"e","x":533.3,"y":39.4},{"s":"l","c":"e","x":533.2,"y":42.3},{"s":"l","c":"e","x":533.1,"y":45.2},{"s":"l","c":"e","x":533.0,"y":48.1},{"s":"l","c":"e","x":532.9,"y":50.9},{"s":"l","c":"e","x":532.8,"y":53.8},{"s":"l","c":"e","x":532.7,"y":56.8},{"s":"l","c":"e","x":532.6,"y":59.6},{"s":"l","c":"e","x":532.5,"y":62.5},{"s":"l","c":"e","x":532.4,"y":65.3},{"s":"l","c":"e","x":532.3,"y":68.1},{"s":"l","c":"e","x":532.2,"y":70.7},{"s":"l","c":"e","x":532.1,"y":73.2},{"s":"l","c":"e","x":532.0,"y":76},{"s":"l","c":"e","x":531.9,"y":78.3},{"s":"l","c":"e","x":531.8,"y":80.4},{"s":"l","c":"e","x":531.7,"y":82.4},{"s":"l","c":"e","x":531.6,"y":84.1},{"s":"l","c":"e","x":531.5,"y":85.8},{"s":"l","c":"e","x":531.4,"y":87.1},{"s":"l","c":"e","x":531.3,"y":88.2},{"s":"l","c":"e","x":531.2,"y":89.5},{"s":"l","c":"e","x":531.1,"y":91},{"s":"l","c":"e","x":531.0,"y":93},{"s":"l","c":"e","x":530.9,"y":95.9},{"s":"l","c":"e","x":530.8,"y":99.5},{"s":"l","c":"e","x":530.7,"y":103.7},{"s":"l","c":"e","x":530.6,"y":108.6},{"s":"l","c":"e","x":530.5,"y":113.6},{"s":"l","c":"e","x":530.4,"y":118.3},{"s":"l","c":"e","x":530.3,"y":122.4},{"s":"l","c":"e","x":530.2,"y":125.3},{"s":"l","c":"e","x":530.1,"y":126.5},{"s":"l","c":"e","x":530.0,"y":125.7},{"s":"l","c":"e","x":529.9,"y":123.2},{"s":"l","c":"e","x":529.8,"y":119},{"s":"l","c":"e","x":529.7,"y":113.1},{"s":"l","c":"e","x":529.6,"y":106.2},{"s":"l","c":"e","x":529.5,"y":98.2},{"s":"l","c":"e","x":529.4,"y":89.5},{"s":"l","c":"e","x":529.3,"y":80.7},{"s":"l","c":"e","x":529.2,"y":71.9},{"s":"l","c":"e","x":529.1,"y":63.5},{"s":"l","c":"e","x":529.0,"y":55.8},{"s":"l","c":"e","x":528.9,"y":48.8},{"s":"l","c":"e","x":528.8,"y":42.9},{"s":"l","c":"e","x":528.7,"y":37.9},{"s":"l","c":"e","x":528.6,"y":33.7},{"s":"l","c":"e","x":528.5,"y":30.4},{"s":"l","c":"e","x":528.4,"y":27.8},{"s":"l","c":"e","x":528.3,"y":25.7},{"s":"l","c":"e","x":528.2,"y":24.3},
{"s":"l","c":"0","x":535.1,"y":23},{"s":"l","c":"0","x":528.2,"y":21},
{"s":"l","c":"1","x":535.1,"y":23},{"s":"l","c":"1","x":533,"y":22.4},{"s":"l","c":"1","x":532.2,"y":22.2},{"s":"l","c":"1","x":532.1,"y":22.3},{"s":"l","c":"1","x":532.0,"y":22.7},{"s":"l","c":"1","x":531.9,"y":23.1},{"s":"l","c":"1","x":531.8,"y":23.7},{"s":"l","c":"1","x":531.7,"y":24.6},{"s":"l","c":"1","x":531.6,"y":25.9},{"s":"l","c":"1","x":531.5,"y":27.8},{"s":"l","c":"1","x":531.4,"y":30.2},{"s":"l","c":"1","x":531.3,"y":33.6},{"s":"l","c":"1","x":531.2,"y":38},{"s":"l","c":"1","x":531.1,"y":43.3},{"s":"l","c":"1","x":531.0,"y":49.7},{"s":"l","c":"1","x":530.9,"y":57.3},{"s":"l","c":"1","x":530.8,"y":65.8},{"s":"l","c":"1","x":530.7,"y":74.8},{"s":"l","c":"1","x":530.6,"y":84.3},{"s":"l","c":"1","x":530.5,"y":93.6},{"s":"l","c":"1","x":530.4,"y":102.1},{"s":"l","c":"1","x":530.3,"y":109.5},{"s":"l","c":"1","x":530.2,"y":115.3},{"s":"l","c":"1","x":530.1,"y":118.9},{"s":"l","c":"1","x":530.0,"y":120},{"s":"l","c":"1","x":529.9,"y":119},{"s":"l","c":"1","x":529.8,"y":116},{"s":"l","c":"1","x":529.7,"y":111},{"s":"l","c":"1","x":529.6,"y":104.7},{"s":"l","c":"1","x":529.5,"y":97.2},{"s":"l","c":"1","x":529.4,"y":88.9},{"s":"l","c":"1","x":529.3,"y":80.2},{"s":"l","c":"1","x":529.2,"y":71.6},{"s":"l","c":"1","x":529.1,"y":63.4},{"s":"l","c":"1","x":529.0,"y":55.7},{"s":"l","c":"1","x":528.9,"y":48.8},{"s":"l","c":"1","x":528.8,"y":42.9},{"s":"l","c":"1","x":528.7,"y":37.9},{"s":"l","c":"1","x":528.6,"y":33.7},{"s":"l","c":"1","x":528.5,"y":30.4},{"s":"l","c":"1","x":528.4,"y":27.8},{"s":"l","c":"1","x":528.3,"y":25.7},{"s":"l","c":"1","x":528.2,"y":24.3},
{"s":"l","c":"2","x":535.1,"y":23.1},{"s":"l","c":"2","x":534.7,"y":23.1},{"s":"l","c":"2","x":534.3,"y":23.65},{"s":"l","c":"2","x":534.1,"y":24.3},{"s":"l","c":"2","x":533.9,"y":25.4},{"s":"l","c":"2","x":533.7,"y":27.1},{"s":"l","c":"2","x":533.5,"y":29.6},{"s":"l","c":"2","x":533.3,"y":33.1},{"s":"l","c":"2","x":533.1,"y":37.7},{"s":"l","c":"2","x":532.9,"y":43.5},{"s":"l","c":"2","x":532.7,"y":50.2},{"s":"l","c":"2","x":532.5,"y":57.4},{"s":"l","c":"2","x":532.3,"y":64.7},{"s":"l","c":"2","x":532.1,"y":71.2},{"s":"l","c":"2","x":531.9,"y":76.3},{"s":"l","c":"2","x":531.7,"y":79.3},{"s":"l","c":"2","x":531.55,"y":80},{"s":"l","c":"2","x":531.4,"y":78.7},{"s":"l","c":"2","x":531.2,"y":73.4},{"s":"l","c":"2","x":531.0,"y":65.1},{"s":"l","c":"2","x":530.8,"y":55.5},{"s":"l","c":"2","x":530.6,"y":46},{"s":"l","c":"2","x":530.4,"y":37.8},{"s":"l","c":"2","x":530.2,"y":31.6},{"s":"l","c":"2","x":530.0,"y":27.2},{"s":"l","c":"2","x":529.8,"y":24.5},{"s":"l","c":"2","x":529.6,"y":22.9},{"s":"l","c":"2","x":529.4,"y":22},{"s":"l","c":"2","x":529.0,"y":21.3},{"s":"l","c":"2","x":528.2,"y":21},
{"s":"l","c":"3","x":535.1,"y":23},{"s":"l","c":"3","x":534.5,"y":22.9},{"s":"l","c":"3","x":534.2,"y":23.2},{"s":"l","c":"3","x":534.0,"y":23.7},{"s":"l","c":"3","x":533.8,"y":24.7},{"s":"l","c":"3","x":533.6,"y":26.3},{"s":"l","c":"3","x":533.4,"y":28},{"s":"l","c":"3","x":533.3,"y":28.8},{"s":"l","c":"3","x":533.2,"y":29.45},{"s":"l","c":"3","x":533.1,"y":29.9},{"s":"l","c":"3","x":533.0,"y":30},{"s":"l","c":"3","x":532.9,"y":29.8},{"s":"l","c":"3","x":532.8,"y":29.4},{"s":"l","c":"3","x":532.7,"y":28.85},{"s":"l","c":"3","x":532.6,"y":28.1},{"s":"l","c":"3","x":532.4,"y":26.4},{"s":"l","c":"3","x":532.2,"y":24.8},{"s":"l","c":"3","x":532.0,"y":23.6},{"s":"l","c":"3","x":531.8,"y":22.7},{"s":"l","c":"3","x":531.5,"y":22.1},{"s":"l","c":"3","x":531.0,"y":21.8},{"s":"l","c":"3","x":528.2,"y":21}
],
"bTxt": [
{"k":"name","t":"Ni nanosheets-450","x":535.61,"y":266},
{"k":"name","t":"Ni nanosheets-350","x":535.63,"y":116},
{"k":"name","t":"O 1s","x":528.89,"y":266},
{"k":"letter","t":"b","x":537.27,"y":267},
{"k":"num","c":"1","t":"1","x":529.98,"y":100},
{"k":"num","c":"2","t":"2","x":531.64,"y":58},
{"k":"num","c":"3","t":"3","x":533.15,"y":55}
]
},
"hconcat": [
{
 "width": 406, "height": 306,
 "encoding": {
  "x": {"field": "x", "type": "quantitative", "scale": {"domain": [847.5897, 868.4103], "reverse": true, "nice": false, "zero": false},
        "axis": {"title": "Binding Energy (eV)", "values": [848,852,856,860,864,868]}},
  "y": {"field": "y", "type": "quantitative", "scale": {"domain": [-8, 298], "nice": false, "zero": false},
        "axis": {"title": "Intensity (a.u.)", "titleX": -21.5}}
 },
 "layer": [
  {"data": {"name": "aRaw"}, "mark": {"type": "line", "color": "#111111", "strokeWidth": 1.1}, "encoding": {"detail": {"field": "s"}}},
  {"data": {"name": "aFit"}, "transform": [{"filter": "datum.c == 'e'"}], "mark": {"type": "line", "color": "#e0201a", "strokeWidth": 1.6, "interpolate": "monotone"}, "encoding": {"detail": {"field": "s"}}},
  {"data": {"name": "aFit"}, "transform": [{"filter": "datum.c != 'e'"}], "mark": {"type": "line", "strokeWidth": 1.5, "interpolate": "monotone"},
   "encoding": {"detail": {"field": "s"}, "color": {"field": "c", "type": "nominal", "scale": {"domain": ["1","2","3","4"], "range": ["#2e8c9c","#e31ee3","#8c8c22","#222a8c"]}, "legend": null}}},
  {"data": {"name": "aBox"}, "mark": {"type": "line", "color": "#111111", "strokeWidth": 1.8, "strokeCap": "square"}, "encoding": {"detail": {"field": "side"}}},
  {"data": {"name": "aTick"}, "mark": {"type": "line", "color": "#111111", "strokeWidth": 1.5}, "encoding": {"detail": {"field": "x", "type": "quantitative"}}},
  {"data": {"name": "aTxt"}, "transform": [{"filter": "datum.k == 'name'"}], "mark": {"type": "text", "align": "left", "baseline": "middle", "font": "Liberation Sans", "fontSize": 13.5, "color": "#111111"}, "encoding": {"text": {"field": "t"}}},
  {"data": {"name": "aTxt"}, "transform": [{"filter": "datum.k == 'sub'"}], "mark": {"type": "text", "align": "left", "baseline": "middle", "font": "Liberation Sans", "fontSize": 7.5, "color": "#111111"}, "encoding": {"text": {"field": "t"}}},
  {"data": {"name": "aTxt"}, "transform": [{"filter": "datum.k == 'letter'"}], "mark": {"type": "text", "align": "left", "baseline": "alphabetic", "font": "Open Sans", "fontSize": 40, "color": "#111111"}, "encoding": {"text": {"field": "t"}}},
  {"data": {"name": "aTxt"}, "transform": [{"filter": "datum.k == 'num'"}], "mark": {"type": "text", "align": "center", "baseline": "middle", "font": "Liberation Sans", "fontSize": 14},
   "encoding": {"text": {"field": "t"}, "color": {"field": "c", "type": "nominal", "scale": {"domain": ["1","2","3","4"], "range": ["#2e8c9c","#e31ee3","#8c8c22","#222a8c"]}, "legend": null}}}
 ]
},
{
 "width": 406, "height": 306,
 "encoding": {
  "x": {"field": "x", "type": "quantitative", "scale": {"domain": [527.8363, 536.1637], "reverse": true, "nice": false, "zero": false},
        "axis": {"title": "Binding Energy (eV)", "values": [528,530,532,534,536]}},
  "y": {"field": "y", "type": "quantitative", "scale": {"domain": [-8, 298], "nice": false, "zero": false},
        "axis": {"title": "Intensity (a.u.)", "titleX": -27.5}}
 },
 "layer": [
  {"data": {"name": "bRaw"}, "mark": {"type": "line", "color": "#111111", "strokeWidth": 1.1}, "encoding": {"detail": {"field": "s"}}},
  {"data": {"name": "bFit"}, "transform": [{"filter": "datum.c == 'e'"}], "mark": {"type": "line", "color": "#e0201a", "strokeWidth": 1.6, "interpolate": "monotone"}, "encoding": {"detail": {"field": "s"}}},
  {"data": {"name": "bFit"}, "transform": [{"filter": "datum.c != 'e'"}], "mark": {"type": "line", "strokeWidth": 1.5, "interpolate": "monotone"},
   "encoding": {"detail": {"field": "s"}, "color": {"field": "c", "type": "nominal", "scale": {"domain": ["0","1","2","3"], "range": ["#2424c8","#2424c8","#e31ee3","#8c8c22"]}, "legend": null}}},
  {"data": {"name": "bBox"}, "mark": {"type": "line", "color": "#111111", "strokeWidth": 1.8, "strokeCap": "square"}, "encoding": {"detail": {"field": "side"}}},
  {"data": {"name": "bTick"}, "mark": {"type": "line", "color": "#111111", "strokeWidth": 1.5}, "encoding": {"detail": {"field": "x", "type": "quantitative"}}},
  {"data": {"name": "bTxt"}, "transform": [{"filter": "datum.k == 'name'"}], "mark": {"type": "text", "align": "left", "baseline": "middle", "font": "Liberation Sans", "fontSize": 13.5, "color": "#111111"}, "encoding": {"text": {"field": "t"}}},
  {"data": {"name": "bTxt"}, "transform": [{"filter": "datum.k == 'letter'"}], "mark": {"type": "text", "align": "left", "baseline": "alphabetic", "font": "Open Sans", "fontSize": 40, "color": "#111111"}, "encoding": {"text": {"field": "t"}}},
  {"data": {"name": "bTxt"}, "transform": [{"filter": "datum.k == 'num'"}], "mark": {"type": "text", "align": "center", "baseline": "middle", "font": "Liberation Sans", "fontSize": 14},
   "encoding": {"text": {"field": "t"}, "color": {"field": "c", "type": "nominal", "scale": {"domain": ["0","1","2","3"], "range": ["#2424c8","#2424c8","#e31ee3","#8c8c22"]}, "legend": null}}}
 ]
}
]
}
